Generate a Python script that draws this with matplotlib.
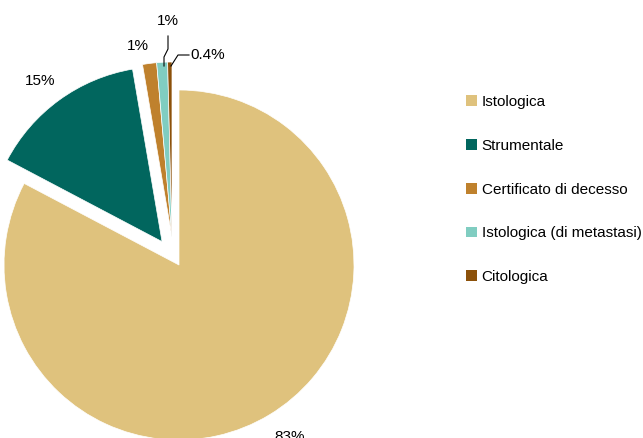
import matplotlib
matplotlib.use("Agg")
import matplotlib.pyplot as plt
from matplotlib.patches import Patch

plt.rcParams['font.family'] = ['Liberation Sans', 'DejaVu Sans']

labels = ['Istologica', 'Strumentale', 'Certificato di decesso',
          'Istologica (di metastasi)', 'Citologica']
values = [82.8, 14.6, 1.3, 1.0, 0.4]
pct_text = ['83%', '15%', '1%', '1%', '0.4%']
colors = ['#dfc27d', '#01665e', '#bf812d', '#80cdc1', '#8c510a']
explode = [0, 0.165, 0.165, 0.165, 0.165]

W, H = 643, 438
R = 175.0          # pie radius in pixels
cx, cy = 179, 265  # pie centre (pixels from top-left)

fig = plt.figure(figsize=(W / 100, H / 100), dpi=100)
ax = fig.add_axes([0, 0, 400 / W, 1])

wedges, _ = ax.pie(values, colors=colors, explode=explode, startangle=90,
                   counterclock=False,
                   wedgeprops=dict(edgecolor='white', linewidth=0.5))
# the small slices sit a bit further left than a plain radial explode
for w in wedges[2:]:
    w.set_center((-7 / R, 28 / R))
ax.set_aspect('auto')
ax.set_xlim(-cx / R, (400 - cx) / R)
ax.set_ylim(-(H - cy) / R, cy / R)
ax.axis('off')

def px(x, y):
    # pixel coords (top-left origin) -> data coords
    return ((x - cx) / R, (cy - y) / R)

fs = 11
ax.text(*px(290, 437), pct_text[0], ha='center', va='center', fontsize=fs)
ax.text(*px(40, 81), pct_text[1], ha='center', va='center', fontsize=fs)
ax.text(*px(138, 46), pct_text[2], ha='center', va='center', fontsize=fs)
ax.text(*px(168, 21), pct_text[3], ha='center', va='center', fontsize=fs)
ax.text(*px(190, 55), pct_text[4], ha='left', va='center', fontsize=fs)

# leader lines for the small slices
l1 = [px(168, 36), px(168, 49), px(164, 57), px(164, 66)]
l2 = [px(189, 55), px(178, 55), px(171, 66)]
for pts in (l1, l2):
    xs, ys = zip(*pts)
    ax.plot(xs, ys, color='black', lw=0.8, clip_on=False)

handles = [Patch(facecolor=c, edgecolor='none') for c in colors]
fig.legend(handles, labels, loc='upper left',
           bbox_to_anchor=(466 / W, 1 - 95 / H), frameon=False,
           fontsize=fs, handlelength=0.72, handleheight=0.72,
           handletextpad=0.3, labelspacing=1.95, borderpad=0,
           borderaxespad=0)

fig.savefig('out.png', dpi=100)
